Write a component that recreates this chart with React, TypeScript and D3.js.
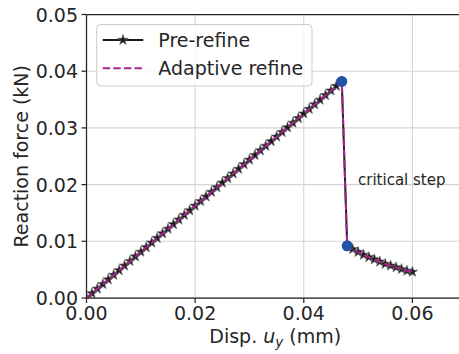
import React from "react";
import * as d3 from "d3";

const preX: number[] = [
  0.0, 0.001, 0.002, 0.003, 0.004, 0.005, 0.006, 0.007, 0.008, 0.009,
  0.01, 0.011, 0.012, 0.013, 0.014, 0.015, 0.016, 0.017, 0.018, 0.019,
  0.02, 0.021, 0.022, 0.023, 0.024, 0.025, 0.026, 0.027, 0.028, 0.029,
  0.03, 0.031, 0.032, 0.033, 0.034, 0.035, 0.036, 0.037, 0.038, 0.039,
  0.04, 0.041, 0.042, 0.043, 0.044, 0.045, 0.046, 0.047,
  0.048, 0.049, 0.05, 0.051, 0.052, 0.053, 0.054, 0.055, 0.056, 0.057,
  0.058, 0.059, 0.06,
];
const preY: number[] = [
  0.0, 0.00081, 0.00163, 0.00244, 0.00325, 0.00406, 0.00488, 0.00569, 0.0065, 0.00731,
  0.00813, 0.00894, 0.00975, 0.01057, 0.01138, 0.01219, 0.013, 0.01382, 0.01463, 0.01544,
  0.01626, 0.01707, 0.01788, 0.01869, 0.01951, 0.02032, 0.02113, 0.02194, 0.02276, 0.02357,
  0.02438, 0.0252, 0.02601, 0.02682, 0.02763, 0.02845, 0.02926, 0.03007, 0.03089, 0.0317,
  0.03251, 0.03332, 0.03414, 0.03495, 0.03576, 0.03657, 0.03739, 0.0382,
  0.0092, 0.0086, 0.0081, 0.0076, 0.0072, 0.0068, 0.0064, 0.006, 0.0057, 0.0054,
  0.0051, 0.0048, 0.0046,
];
const adaptiveX: number[] = preX;
const adaptiveY: number[] = preY;
const criticalX: number[] = [0.047, 0.048];
const criticalY: number[] = [0.0382, 0.0092];

const xTicks: number[] = [0, 0.02, 0.04, 0.06];
const yTicks: number[] = [0, 0.01, 0.02, 0.03, 0.04, 0.05];

const W = 459;
const H = 354;
const left = 86.5;
const right = 464;
const top = 14.5;
const bottom = 298;
const FONT = "DejaVu Sans, sans-serif";

export default function App() {
  const x = d3.scaleLinear().domain([0, 0.0695]).range([left, right]);
  const y = d3.scaleLinear().domain([0, 0.05]).range([bottom, top]);
  const line = d3
    .line<[number, number]>()
    .x((d) => x(d[0]))
    .y((d) => y(d[1]));
  const pre: [number, number][] = preX.map((v, i) => [v, preY[i]]);
  const ada: [number, number][] = adaptiveX.map((v, i) => [v, adaptiveY[i]]);
  const star = d3.symbol().type(d3.symbolStar).size(34)() as string;
  const dark = "#262626";
  const grid = "#d4d4d4";
  const magenta = "#a8248f";
  const blue = "#2252a5";

  return (
    <svg
      width={W}
      height={H}
      style={{ position: "absolute", left: 0, top: 0, background: "#fff" }}
      fontFamily={FONT}
    >
      <defs>
        <clipPath id="plot">
          <rect x={left} y={top} width={right - left} height={bottom - top} />
        </clipPath>
      </defs>
      {xTicks.map((t) => (
        <line key={"gx" + t} x1={x(t)} x2={x(t)} y1={top} y2={bottom} stroke={grid} strokeWidth={1.1} />
      ))}
      {yTicks.map((t) => (
        <line key={"gy" + t} x1={left} x2={W} y1={y(t)} y2={y(t)} stroke={grid} strokeWidth={1.1} />
      ))}
      <g clipPath="url(#plot)">
        <path d={line(pre) || ""} fill="none" stroke="#1a1a1a" strokeWidth={2} />
        {pre.map((d, i) => (
          <path
            key={"m" + i}
            d={star}
            transform={`translate(${x(d[0])},${y(d[1])})`}
            fill="#1a1a1a"
            stroke="#666"
            strokeWidth={0.7}
          />
        ))}
        <path
          d={line(ada) || ""}
          fill="none"
          stroke={magenta}
          strokeWidth={2}
          strokeDasharray="7.4,3.2"
        />
        {criticalX.map((v, i) => (
          <circle key={"c" + i} cx={x(v)} cy={y(criticalY[i])} r={5.5} fill={blue} />
        ))}
      </g>
      <text x={358} y={185} fontSize={15} fill={dark}>
        critical step
      </text>
      <line x1={left} x2={left} y1={top} y2={bottom} stroke={dark} strokeWidth={1.25} />
      <line x1={left} x2={W} y1={bottom} y2={bottom} stroke={dark} strokeWidth={1.25} />
      <line x1={left} x2={W} y1={top} y2={top} stroke={dark} strokeWidth={1.25} />
      {xTicks.map((t) => (
        <g key={"tx" + t}>
          <line x1={x(t)} x2={x(t)} y1={bottom} y2={bottom + 5} stroke={dark} strokeWidth={1.25} />
          <text x={x(t)} y={320} fontSize={19} textAnchor="middle" fill={dark}>
            {d3.format(".2f")(t)}
          </text>
        </g>
      ))}
      {yTicks.map((t) => (
        <g key={"ty" + t}>
          <line x1={left - 5} x2={left} y1={y(t)} y2={y(t)} stroke={dark} strokeWidth={1.25} />
          <text x={78} y={y(t) + 7} fontSize={19} textAnchor="end" fill={dark}>
            {d3.format(".2f")(t)}
          </text>
        </g>
      ))}
      <text x={(left + right) / 2} y={343} fontSize={19} textAnchor="middle" fill={dark}>
        Disp. <tspan fontStyle="italic">u</tspan>
        <tspan fontStyle="italic" fontSize={13.5} dy={4}>y</tspan>
        <tspan dy={-4}> (mm)</tspan>
      </text>
      <text
        transform={`translate(28,${(top + bottom) / 2}) rotate(-90)`}
        fontSize={19}
        textAnchor="middle"
        fill={dark}
      >
        Reaction force (kN)
      </text>
      <rect x={96.7} y={24.5} width={215.3} height={61.5} rx={4} fill="#fff" fillOpacity={0.8} stroke="#cccccc" strokeWidth={1} />
      <line x1={102.7} x2={143.3} y1={40} y2={40} stroke="#1a1a1a" strokeWidth={2} />
      <path d={star} transform="translate(123,40)" fill="#1a1a1a" stroke="#666" strokeWidth={0.7} />
      <text x={158.3} y={46.7} fontSize={19} fill={dark}>
        Pre-refine
      </text>
      <line x1={102.7} x2={143.3} y1={68.3} y2={68.3} stroke={magenta} strokeWidth={2} strokeDasharray="7.4,3.2" />
      <text x={158.3} y={75} fontSize={19} fill={dark}>
        Adaptive refine
      </text>
    </svg>
  );
}
